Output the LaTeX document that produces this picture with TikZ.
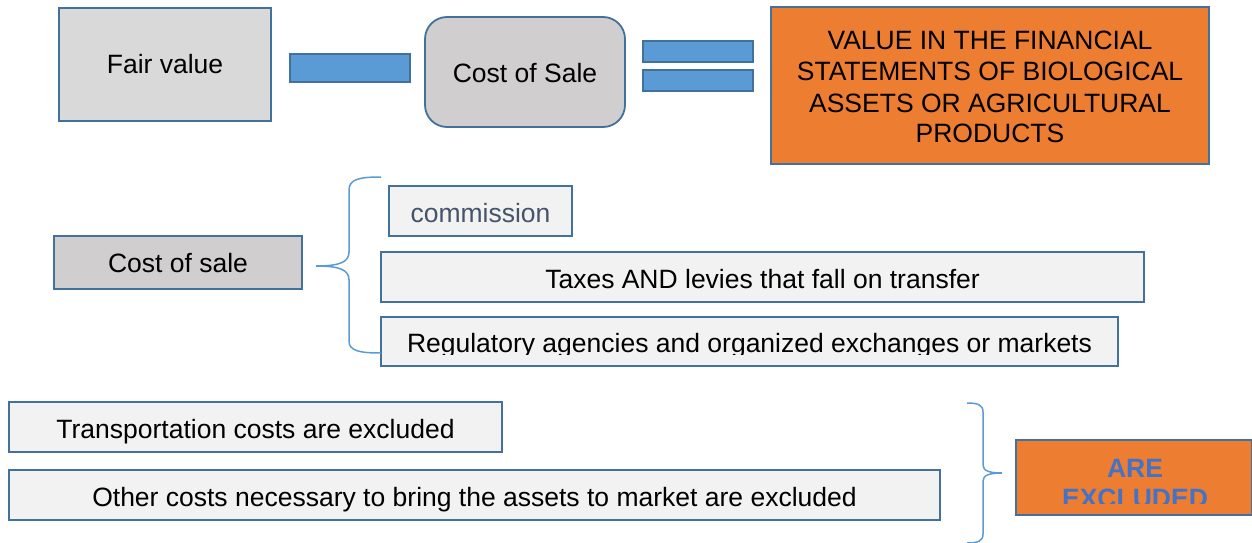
\documentclass[tikz,border=0pt]{standalone}
\usepackage{fontspec}
\setmainfont{Liberation Sans}
\definecolor{bordc}{HTML}{41719C}
\definecolor{barc}{HTML}{5B9BD5}
\definecolor{grayA}{HTML}{D9D9D9}
\definecolor{grayB}{HTML}{D0CECE}
\definecolor{lightc}{HTML}{F2F2F2}
\definecolor{orangec}{HTML}{ED7D31}
\definecolor{commc}{HTML}{44546A}
\definecolor{arec}{HTML}{4472C4}
\tikzset{
  box/.style={draw=bordc, line width=1.8pt, inner sep=0pt, outer sep=0pt, rectangle},
  barbox/.style={box, fill=barc},
  txt/.style={anchor=base, inner sep=0pt, font=\fontsize{26.5}{30.7}\selectfont},
  bracec/.style={draw=barc, line width=1.5pt}
}
\begin{document}
\begin{tikzpicture}[x=1pt,y=-1pt]
\useasboundingbox (0,0) rectangle (1252,543);
% top row
\node[box, fill=grayA, minimum width=212pt, minimum height=113pt] (fv) at (165,64.5) {};
\node[txt] (fvt) at (165,74) {Fair value};
\node[barbox, minimum width=120pt, minimum height=28pt] (minus) at (350,68) {};
\node[box, fill=grayB, rounded corners=22pt, minimum width=200pt, minimum height=110pt] (cs) at (525,72) {};
\node[txt] (cst) at (525,82) {Cost of Sale};
\node[barbox, minimum width=110pt, minimum height=21pt] (eq1) at (698,51.5) {};
\node[barbox, minimum width=110pt, minimum height=21pt] (eq2) at (698,80.5) {};
\node[box, fill=orangec, minimum width=438pt, minimum height=157pt] (val) at (990,85.5) {};
\node[txt] (v1) at (990,50) {VALUE IN THE FINANCIAL};
\node[txt] (v2) at (990,81) {STATEMENTS OF BIOLOGICAL};
\node[txt] (v3) at (990,112) {ASSETS OR AGRICULTURAL};
\node[txt] (v4) at (990,142) {PRODUCTS};
% middle section
\node[box, fill=grayB, minimum width=248pt, minimum height=53pt] (cs2) at (178,262.5) {};
\node[txt] (cs2t) at (178,272) {Cost of sale};
\node[box, fill=lightc, minimum width=183pt, minimum height=50pt] (com) at (480.5,211) {};
\node[txt, text=commc] (comt) at (480.5,222) {commission};
\node[box, fill=lightc, minimum width=763pt, minimum height=50pt] (tax) at (762.5,277) {};
\node[txt] (taxt) at (762.5,288) {Taxes AND levies that fall on transfer};
\node[box, fill=lightc, minimum width=737pt, minimum height=49pt] (reg) at (749.5,341.5) {};
\begin{scope}
\clip (381,317) rectangle (1118,354.5);
\node[txt] (regt) at (749.5,352) {Regulatory agencies and organized exchanges or markets};
\end{scope}
% left brace
\coordinate (b1top) at (381,177);
\coordinate (b1tip) at (316,266);
\coordinate (b1bot) at (381,353);
\draw[bracec] (b1top) .. controls (360,177) and (349,179) .. (349,190)
  -- (349,252) .. controls (349,262) and (340,266) .. (b1tip)
  .. controls (340,266) and (349,270) .. (349,280)
  -- (349,341) .. controls (349,351) and (360,353) .. (b1bot);
% bottom section
\node[box, fill=lightc, minimum width=493pt, minimum height=50pt] (tr) at (255.5,427) {};
\node[txt] (trt) at (255.5,438) {Transportation costs are excluded};
\node[box, fill=lightc, minimum width=931pt, minimum height=50pt] (oth) at (474.5,495) {};
\node[txt] (otht) at (474.5,506) {Other costs necessary to bring the assets to market are excluded};
% right brace
\coordinate (b2top) at (967,403);
\coordinate (b2tip) at (1002,473);
\coordinate (b2bot) at (967,543);
\draw[bracec] (b2top) .. controls (978,403) and (983,405) .. (983,412)
  -- (983,465) .. controls (983,471) and (990,473) .. (b2tip)
  .. controls (990,473) and (983,475) .. (983,481)
  -- (983,534) .. controls (983,541) and (978,543) .. (b2bot);
\node[box, fill=orangec, minimum width=236pt, minimum height=75pt] (are) at (1134,477.5) {};
\node[txt, text=arec, font=\fontsize{26.5}{30.7}\selectfont\bfseries] (aret) at (1135,477) {ARE};
\begin{scope}
\clip (1016,440) rectangle (1252,503);
\node[txt, text=arec, font=\fontsize{26.5}{30.7}\selectfont\bfseries] (exct) at (1135,507) {EXCLUDED};
\end{scope}
\end{tikzpicture}
\end{document}
